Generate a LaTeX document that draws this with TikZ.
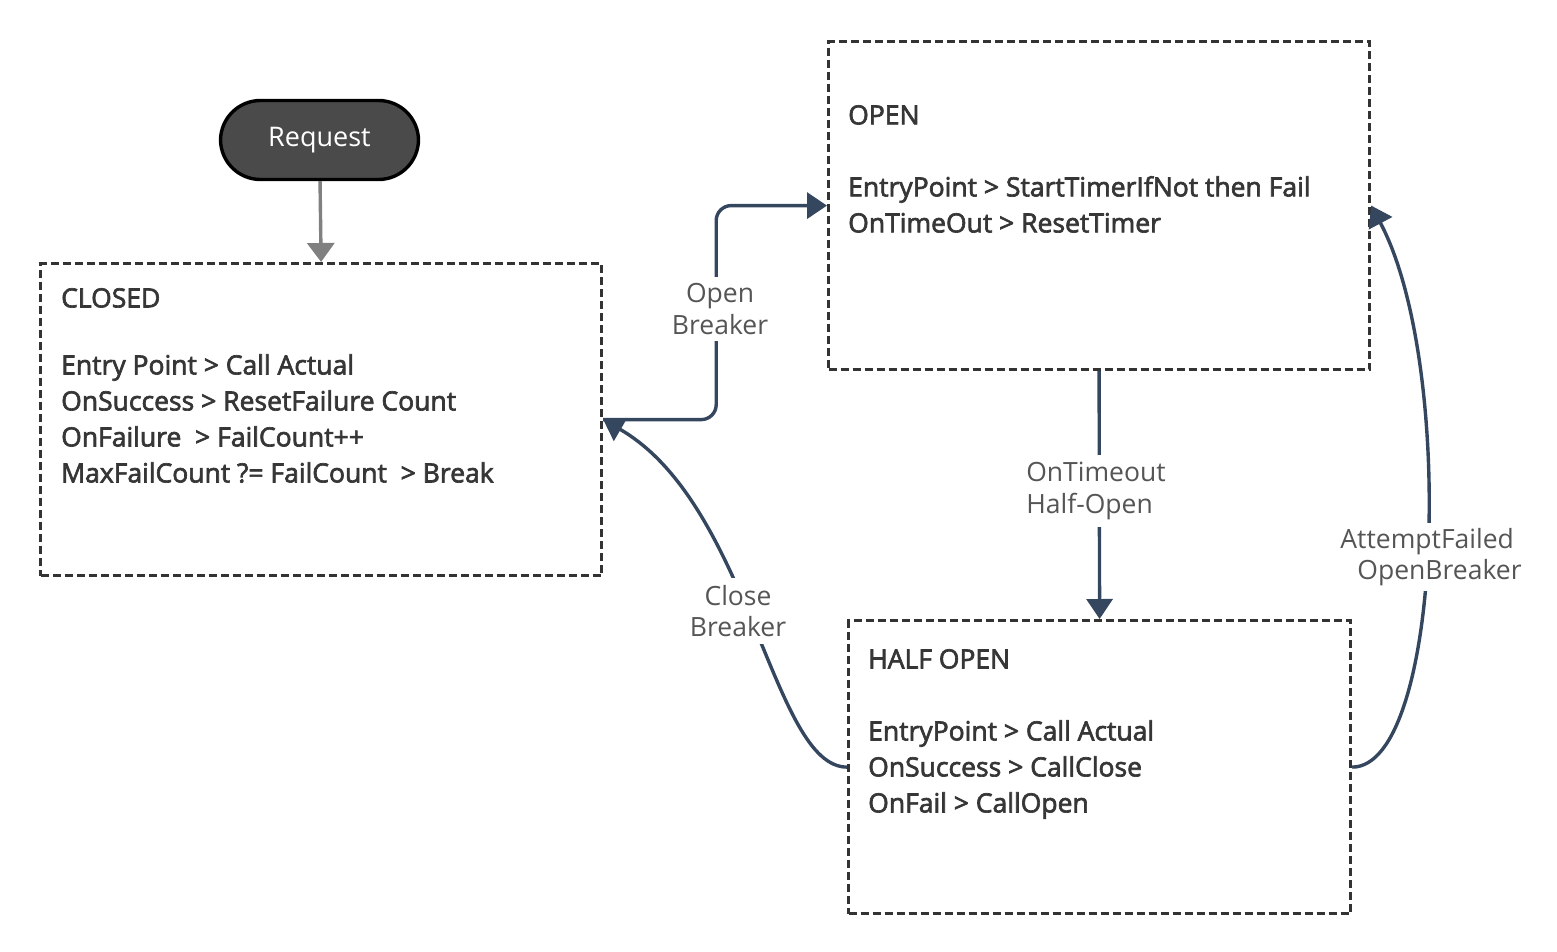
\documentclass[tikz,border=0pt]{standalone}
\usepackage{fontspec}
\setmainfont{Open Sans}
\newfontfamily\boxfont[FakeBold=2.5]{Open Sans}
\usetikzlibrary{arrows.meta,positioning}

\definecolor{boxline}{HTML}{333333}
\definecolor{boxtextcol}{HTML}{363636}
\definecolor{flowcol}{HTML}{34475F}
\definecolor{labelcol}{HTML}{555555}
\definecolor{reqfill}{HTML}{4A4A4A}

\tikzset{
  statebox/.style={draw=boxline, line width=3.2pt, dash pattern=on 8pt off 4pt, inner sep=0pt, anchor=north west},
  boxtext/.style={inner sep=0pt, align=left, text=boxtextcol, font=\boxfont\fontsize{26.5}{36}\selectfont},
  flow/.style={draw=flowcol, line width=3.4pt, -{Triangle[length=20pt,width=26pt]}},
  flowlabel/.style={fill=white, inner sep=7pt, text=labelcol, font=\fontsize{26.5}{31.5}\selectfont},
}

\begin{document}
\begin{tikzpicture}[x=1pt,y=-1pt]
\useasboundingbox (0,0) rectangle (1557,952);

\node[draw=black, line width=3.4pt, fill=reqfill, rounded corners=40pt, minimum width=198pt, minimum height=79pt, text=white, font=\fontsize{27}{30}\selectfont] (request) at (319.5,140) {Request};

\node[statebox, minimum width=561pt, minimum height=312pt] (closed) at (39,262) {};
\node[statebox, minimum width=541pt, minimum height=328pt] (open) at (827,40) {};
\node[statebox, minimum width=502pt, minimum height=293pt] (halfopen) at (847,619) {};

\node[boxtext, below right=26pt and 22pt of closed.north west] (closedtxt) {CLOSED\\[31pt]Entry Point > Call Actual\\OnSuccess > ResetFailure Count\\OnFailure\ \ > FailCount++\\MaxFailCount ?= FailCount\ \ > Break};
\node[boxtext, below right=65pt and 21pt of open.north west] (opentxt) {OPEN\\[36pt]EntryPoint > StartTimerIfNot then Fail\\OnTimeOut > ResetTimer};
\node[boxtext, below right=30pt and 21pt of halfopen.north west] (halfopentxt) {HALF OPEN\\[36pt]EntryPoint > Call Actual\\OnSuccess > CallClose\\OnFail > CallOpen};

\draw[flow, draw=gray, -{Triangle[length=19pt,width=27pt]}] (request) -- (closed.north);
\draw[flow, rounded corners=15pt] (closed.east) -- ++(113,0) |- (open.west);
\draw[flow] (open.south) -- (halfopen.north);
\draw[flow] (halfopen.west) to[out=180, in=-30, out distance=75pt, in distance=170pt] (closed.east);
\draw[flow] (halfopen.east) to[out=0, in=-62, out distance=90pt, in distance=180pt] (open.east);

\node[flowlabel, align=center] (openlbl) at (720,309) {Open\\Breaker};
\node[flowlabel, align=left] (timeoutlbl) at (1096,491) {OnTimeout\\Half-Open};
\node[flowlabel, align=center] (closelbl) at (738,611) {Close\\Breaker};
\node[flowlabel, align=left, inner sep=5pt] (failedlbl) at (1431,557) {AttemptFailed\\\hspace{17pt}OpenBreaker};
\end{tikzpicture}
\end{document}
